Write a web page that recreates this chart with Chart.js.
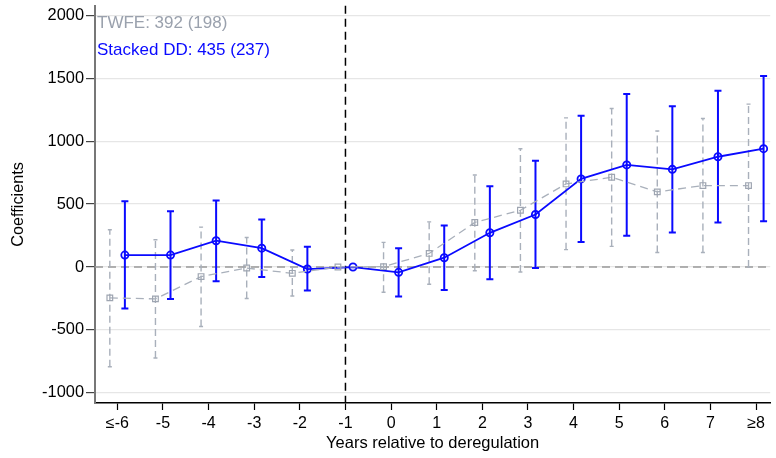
<!DOCTYPE html>
<html>
<head>
<meta charset="utf-8">
<script src="https://cdn.jsdelivr.net/npm/chart.js@4/dist/chart.umd.min.js"></script>
<style>
  html, body { margin: 0; padding: 0; background: #fff; }
  #wrap { width: 776px; height: 458px; }
</style>
</head>
<body>
<div id="wrap"><canvas id="event-chart"></canvas></div>
<script>
const categories = ['≤-6', '-5', '-4', '-3', '-2', '-1', '0', '1', '2', '3', '4', '5', '6', '7', '≥8']
const yTicks = [-1000, -500, 0, 500, 1000, 1500, 2000]

const twfeCoef = [-245, -253, -76, -8, -50, 0, 3, 108, 354, 451, 660, 713, 597, 647, 647]
const twfeLow = [-792, -723, -472, -250, -230, 0, -200, -137, -29, -40, 138, 164, 116, 116, 0]
const twfeHigh = [296, 217, 317, 235, 135, 0, 196, 359, 731, 940, 1185, 1259, 1080, 1180, 1294]

const stackedCoef = [95, 95, 209, 150, -16, 0, -42, 74, 272, 417, 700, 811, 776, 876, 940]
const stackedLow = [-330, -253, -113, -79, -187, 0, -235, -182, -97, -8, 198, 248, 275, 354, 364]
const stackedHigh = [523, 443, 528, 378, 161, 0, 150, 330, 641, 845, 1201, 1375, 1278, 1401, 1518]

const notes = ['TWFE: 392 (198)', 'Stacked DD: 435 (237)']

const refIndex = categories.indexOf('-1')
const shift = 0.165
const gray = '#a9b0bb'
const blue = '#0a0aff'
const font = '"Liberation Sans", Arial, Helvetica, sans-serif'

const toPoints = (vals, dx) => vals.map((v, i) => ({ x: i + dx, y: v }))

const series = [
  { low: twfeLow, high: twfeHigh, dx: -shift, color: gray, dash: [7, 4], width: 1.4, cap: 2 },
  { low: stackedLow, high: stackedHigh, dx: shift, color: blue, dash: [], width: 2, cap: 3.5 }
]

const decorations = {
  id: 'decorations',
  beforeDatasetsDraw (chart) {
    const { ctx, chartArea, scales: { x, y } } = chart
    ctx.save()
    // zero line
    ctx.strokeStyle = '#9a9a9a'
    ctx.lineWidth = 1.6
    ctx.setLineDash([8, 5])
    ctx.beginPath()
    ctx.moveTo(chartArea.left, y.getPixelForValue(0))
    ctx.lineTo(chartArea.right, y.getPixelForValue(0))
    ctx.stroke()
    // reference year
    ctx.strokeStyle = '#000'
    ctx.lineWidth = 1.5
    ctx.beginPath()
    const xr = x.getPixelForValue(refIndex)
    ctx.moveTo(xr, chartArea.top)
    ctx.lineTo(xr, chartArea.bottom)
    ctx.stroke()
    // confidence intervals
    series.forEach((s) => {
      ctx.strokeStyle = s.color
      ctx.lineWidth = s.width
      s.low.forEach((lo, i) => {
        if (lo === s.high[i]) return
        const px = x.getPixelForValue(i + s.dx)
        const y1 = y.getPixelForValue(lo)
        const y2 = y.getPixelForValue(s.high[i])
        ctx.setLineDash(s.dash)
        ctx.beginPath()
        ctx.moveTo(px, y1)
        ctx.lineTo(px, y2)
        ctx.stroke()
        ctx.setLineDash([])
        ctx.beginPath()
        ctx.moveTo(px - s.cap, y1)
        ctx.lineTo(px + s.cap, y1)
        ctx.moveTo(px - s.cap, y2)
        ctx.lineTo(px + s.cap, y2)
        ctx.stroke()
      })
    })
    ctx.restore()
  },
  afterDraw (chart) {
    const { ctx, chartArea } = chart
    ctx.save()
    ctx.font = '17px ' + font
    ctx.textBaseline = 'middle'
    ctx.fillStyle = '#9aa1ad'
    ctx.fillText(notes[0], chartArea.left + 2, 23)
    ctx.fillStyle = blue
    ctx.fillText(notes[1], chartArea.left + 2, 50)
    ctx.restore()
  }
}

new Chart(document.getElementById('event-chart'), {
  type: 'scatter',
  data: {
    datasets: [{
      data: toPoints(twfeCoef, -shift),
      showLine: true,
      borderColor: gray,
      borderWidth: 1.3,
      borderDash: [8, 5],
      pointStyle: 'rect',
      pointRadius: 4,
      pointBorderWidth: 1.2,
      pointBorderColor: '#9ea5b1',
      pointBackgroundColor: 'rgba(0,0,0,0)'
    }, {
      data: toPoints(stackedCoef, shift),
      showLine: true,
      borderColor: blue,
      borderWidth: 1.8,
      pointStyle: 'circle',
      pointRadius: 3.6,
      pointBorderWidth: 1.8,
      pointBorderColor: blue,
      pointBackgroundColor: 'rgba(0,0,0,0)'
    }]
  },
  options: {
    responsive: true,
    maintainAspectRatio: false,
    animation: false,
    layout: { padding: { top: 5, right: 0, left: 9, bottom: 5 } },
    plugins: {
      legend: { display: false },
      tooltip: { enabled: false }
    },
    scales: {
      x: {
        type: 'linear',
        min: -0.49,
        max: 14.31,
        afterBuildTicks: (scale) => { scale.ticks = categories.map((c, i) => ({ value: i })) },
        afterFit: (scale) => { scale.height = 50 },
        ticks: {
          autoSkip: false,
          maxRotation: 0,
          color: '#000',
          font: { family: font, size: 16 },
          padding: 4,
          callback: (v) => categories[v]
        },
        grid: { drawOnChartArea: false, tickLength: 7, tickColor: '#000', tickWidth: 1.2 },
        border: { color: '#000', width: 1.5 },
        title: {
          display: true,
          text: 'Years relative to deregulation',
          color: '#000',
          font: { family: font, size: 16.5 },
          padding: { top: 0, bottom: 0 }
        }
      },
      y: {
        min: -1080,
        max: 2075,
        afterBuildTicks: (scale) => { scale.ticks = yTicks.map((v) => ({ value: v })) },
        afterFit: (scale) => {
          scale.width = 86
          scale.paddingTop = 0
          scale.paddingBottom = 0
        },
        ticks: {
          color: '#000',
          font: { family: font, size: 16.4 },
          padding: 2,
          callback: (v) => String(v)
        },
        grid: {
          color: '#e6e6e6',
          lineWidth: 1.2,
          borderDash: [8, 5],
          tickBorderDash: [],
          tickColor: '#444',
          tickLength: 9,
          tickWidth: 1.2
        },
        border: { color: '#777', width: 2 },
        title: {
          display: true,
          text: 'Coefficients',
          color: '#000',
          font: { family: font, size: 16.3 },
          padding: { top: 0, bottom: 0 }
        }
      }
    }
  },
  plugins: [decorations]
})
</script>
</body>
</html>
